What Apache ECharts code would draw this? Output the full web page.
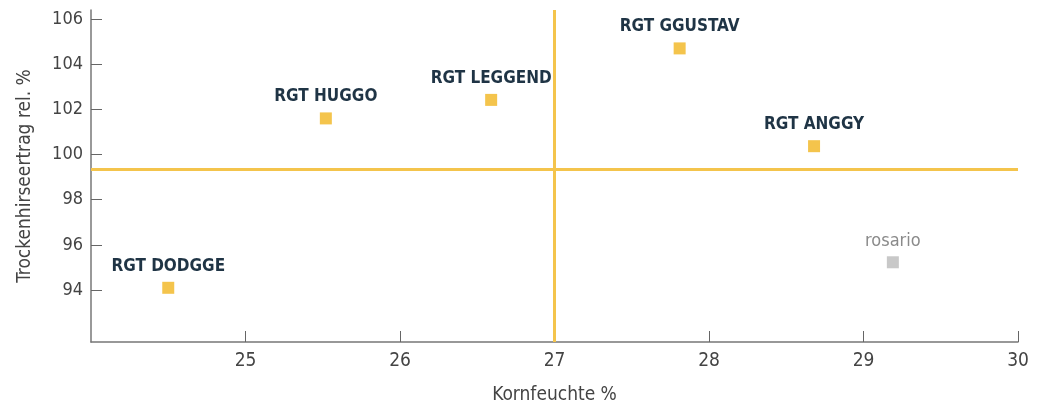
<!DOCTYPE html>
<html>
<head>
    <meta charset="utf-8">
    <title>Kornfeuchte / Trockenhirseertrag</title>
    <script src="https://cdn.jsdelivr.net/npm/echarts@6/dist/echarts.min.js"></script>
    <style>
        html, body { margin: 0; padding: 0; background: #fff; }
        #chart1 { width: 1040px; height: 410px; }
    </style>
</head>
<body>
<div id="chart1"></div>
<script type="text/javascript">
    // Sorten (RGT) und Vergleichssorte
    var rgtNames = ['RGT DODGGE', 'RGT HUGGO', 'RGT LEGGEND', 'RGT GGUSTAV', 'RGT ANGGY'];
    var rgtMoisture = [24.5, 25.52, 26.59, 27.81, 28.68];
    var rgtYield = [94.1, 101.6, 102.42, 104.7, 100.37];

    var refNames = ['rosario'];
    var refMoisture = [29.19];
    var refYield = [95.23];

    // Mittelwerte (Kreuzlinien)
    var meanMoisture = 27;
    var meanYield = 99.36;

    var xTicks = [25, 26, 27, 28, 29, 30];
    var yTicks = [94, 96, 98, 100, 102, 104, 106];

    var yellow = '#f4c44c';
    var narrow = '"DejaVu Sans Condensed", "Liberation Sans Narrow", sans-serif';

    function toPoints(names, xs, ys) {
        var out = [];
        for (var i = 0; i < names.length; i++) {
            out.push({ name: names[i], value: [xs[i], ys[i]] });
        }
        return out;
    }

    var myChart1 = echarts.init(document.getElementById('chart1'));
    var options = {
        animation: false,
        grid: { left: 91, right: 22, top: 10, bottom: 68 },
        xAxis: {
            type: 'value',
            min: 24,
            max: 30,
            name: 'Kornfeuchte %',
            nameLocation: 'middle',
            nameGap: 44,
            nameTextStyle: { fontFamily: narrow, fontSize: 19, color: '#444' },
            splitLine: { show: false },
            axisLine: { lineStyle: { color: '#777', width: 1.5 } },
            axisTick: { inside: true, length: 11, lineStyle: { color: '#666' }, customValues: xTicks },
            axisLabel: { fontFamily: narrow, fontSize: 19, color: '#444', margin: 10, customValues: xTicks }
        },
        yAxis: {
            type: 'value',
            min: 91.7,
            max: 106.4,
            name: 'Trockenhirseertrag rel. %',
            nameLocation: 'middle',
            nameGap: 56,
            nameTextStyle: { fontFamily: narrow, fontSize: 19, color: '#444' },
            splitLine: { show: false },
            axisLine: { lineStyle: { color: '#777', width: 1.5 } },
            axisTick: { inside: true, length: 11, lineStyle: { color: '#666' }, customValues: yTicks },
            axisLabel: { fontFamily: narrow, fontSize: 18, color: '#444', margin: 8, customValues: yTicks }
        },
        series: [{
            name: 'RGT',
            type: 'scatter',
            symbol: 'rect',
            symbolSize: 12,
            itemStyle: { color: yellow, opacity: 1 },
            label: {
                show: true,
                position: 'top',
                distance: 7,
                formatter: '{b}',
                fontFamily: narrow,
                fontWeight: 'bold',
                fontSize: 17,
                color: '#1f3445'
            },
            markLine: {
                silent: true,
                symbol: 'none',
                label: { show: false },
                lineStyle: { color: yellow, width: 3, type: 'solid', opacity: 1 },
                data: [{ xAxis: meanMoisture }, { yAxis: meanYield }]
            },
            data: toPoints(rgtNames, rgtMoisture, rgtYield)
        }, {
            name: 'Vergleich',
            type: 'scatter',
            symbol: 'rect',
            symbolSize: 12,
            itemStyle: { color: '#c8c8c8', opacity: 1 },
            label: {
                show: true,
                position: 'top',
                distance: 6,
                formatter: '{b}',
                fontFamily: narrow,
                fontSize: 18,
                color: '#8a8a8a'
            },
            data: toPoints(refNames, refMoisture, refYield)
        }]
    };
    myChart1.setOption(options);
</script>
</body>
</html>
